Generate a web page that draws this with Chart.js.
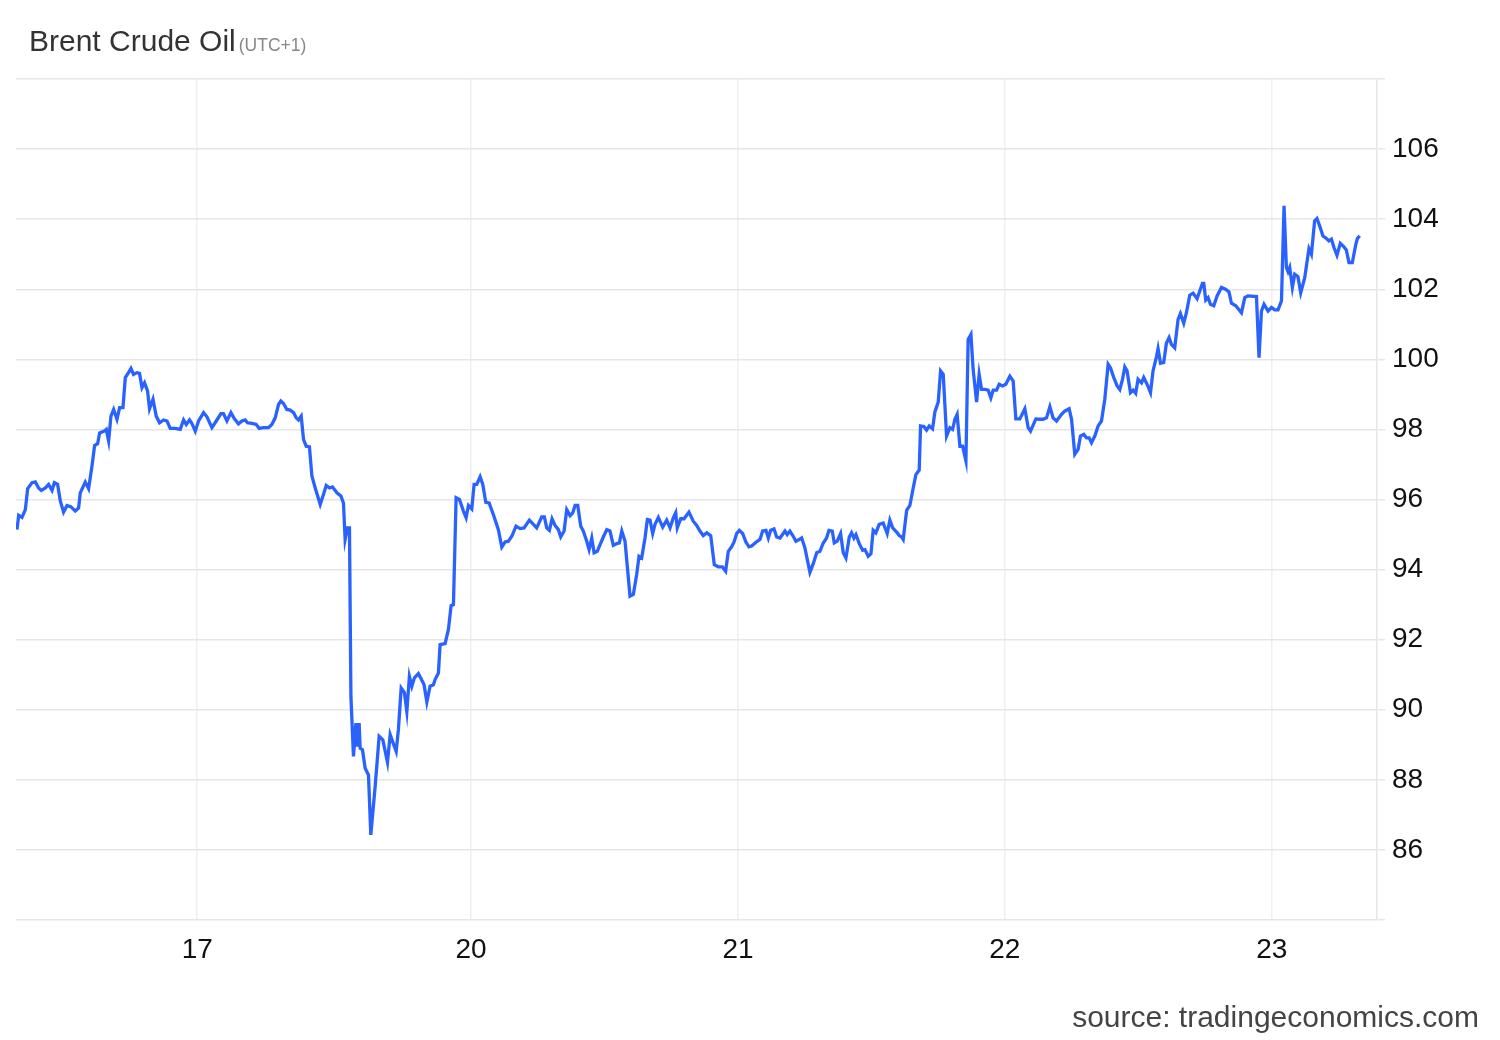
<!DOCTYPE html>
<html>
<head>
<meta charset="utf-8">
<title>Brent Crude Oil</title>
<script src="https://cdn.jsdelivr.net/npm/chart.js@4"></script>
<style>
    html, body { margin: 0; padding: 0; background: #fff; }
    #wrap { position: relative; width: 1500px; height: 1040px; font-family: Arial, "Liberation Sans", sans-serif; }
    #title { position: absolute; left: 29px; top: 26px; font-size: 30px; line-height: 30px; color: #333; white-space: nowrap; }
    #title span { font-size: 17.5px; color: #888; margin-left: 3px; }
    #source { position: absolute; right: 21px; top: 1002px; font-size: 30px; line-height: 30px; color: #444; white-space: nowrap; }
    canvas { position: absolute; left: 0; top: 0; }
</style>
</head>
<body>
<div id="wrap">
    <canvas id="oilChart" width="1500" height="1040"></canvas>
    <div id="title">Brent Crude Oil<span>(UTC+1)</span></div>
    <div id="source">source: tradingeconomics.com</div>
</div>
<script>
// hours of trading, measured from the start of the 17th
const times = [
    -16.21, -16.06, -15.76, -15.46, -15.25, -14.86, -14.56, -14.27, -14.02, -13.66,
    -13.37, -13.06, -12.85, -12.56, -12.31, -12.02, -11.71, -11.35, -10.97, -10.67,
    -10.52, -10.07, -9.77, -9.47, -9.23, -8.96, -8.78, -8.36, -8.18, -7.97,
    -7.76, -7.52, -7.22, -6.98, -6.68, -6.47, -6.18, -5.96, -5.73, -5.42,
    -5.19, -4.97, -4.74, -4.47, -4.29, -3.98, -3.69, -3.39, -3.03, -2.72,
    -2.43, -1.98, -1.53, -1.23, -0.99, -0.69, -0.48, -0.18, 0.12, 0.57,
    0.87, 1.32, 1.71, 2.13, 2.36, 2.67, 3.03, 3.33, 3.71, 4.02,
    4.31, 4.52, 4.92, 5.30, 5.57, 5.96, 6.41, 6.71, 7.01, 7.31,
    7.52, 7.76, 8.06, 8.36, 8.66, 8.90, 9.11, 9.35, 9.56, 9.80,
    10.09, 10.31, 10.61, 11.06, 11.35, 11.60, 11.89, 12.16, 12.56, 12.92,
    13.15, 13.30, 13.51, 13.69, 13.82, 14.05, 14.27, 14.41, 14.56, 14.65,
    14.86, 15.10, 15.40, 15.61, 16.00, 16.36, 16.69, 17.11, 17.35, 17.89,
    18.09, 18.34, 18.63, 18.85, 19.08, 19.30, 19.53, 19.89, 20.20, 20.40,
    20.65, 20.94, 21.24, 21.39, 21.69, 21.84, 22.29, 22.59, 22.83, 23.04,
    23.28, 23.58, 23.94, 24.18, 24.39, 24.69, 24.90, 25.14, 25.44, 25.68,
    25.95, 26.25, 26.63, 27.08, 27.39, 27.69, 27.98, 28.29, 28.67, 29.03,
    29.39, 29.87, 30.23, 30.53, 30.98, 31.22, 31.43, 31.67, 31.91, 32.18,
    32.48, 32.69, 32.99, 33.23, 33.53, 33.77, 33.98, 34.22, 34.49, 34.72,
    35.03, 35.24, 35.48, 35.69, 35.98, 36.23, 36.52, 36.83, 37.12, 37.42,
    37.73, 37.96, 38.18, 38.47, 38.92, 39.22, 39.52, 39.73, 39.97, 40.27,
    40.48, 40.72, 40.96, 41.17, 41.47, 41.86, 42.22, 42.52, 42.82, 43.03,
    43.17, 43.48, 43.78, 44.22, 44.61, 44.92, 45.21, 45.51, 45.82, 46.18,
    46.50, 46.86, 47.22, 47.52, 47.76, 48.06, 48.27, 48.51, 48.75, 49.05,
    49.35, 49.62, 49.86, 50.25, 50.61, 50.85, 51.15, 51.36, 51.57, 51.87,
    52.11, 52.41, 52.86, 53.06, 53.30, 53.60, 53.84, 54.14, 54.36, 54.65,
    55.10, 55.40, 55.71, 56.00, 56.30, 56.60, 56.81, 57.11, 57.29, 57.56,
    57.86, 58.10, 58.34, 58.64, 58.85, 59.06, 59.24, 59.54, 59.84, 60.05,
    60.34, 60.59, 60.79, 61.03, 61.33, 61.69, 62.05, 62.29, 62.54, 62.90,
    63.13, 63.35, 63.49, 63.80, 64.09, 64.39, 64.63, 64.93, 65.05, 65.35,
    65.59, 65.83, 66.13, 66.34, 66.64, 66.85, 67.09, 67.39, 67.69, 67.93,
    68.14, 68.34, 68.59, 68.83, 69.13, 69.33, 69.58, 69.78, 70.09, 70.32,
    70.54, 70.83, 71.13, 71.37, 71.58, 71.89, 72.12, 72.42, 72.72, 73.08,
    73.38, 73.62, 73.98, 74.43, 74.73, 74.94, 75.42, 75.72, 76.07, 76.38,
    76.68, 76.97, 77.28, 77.73, 78.02, 78.41, 78.63, 78.92, 79.22, 79.43,
    79.73, 79.97, 80.21, 80.42, 80.72, 81.02, 81.32, 81.62, 81.92, 82.13,
    82.43, 82.73, 82.97, 83.21, 83.42, 83.62, 83.93, 84.17, 84.40, 84.61,
    84.92, 85.12, 85.42, 85.73, 85.96, 86.27, 86.41, 86.63, 86.92, 87.16,
    87.40, 87.61, 87.91, 88.21, 88.42, 88.72, 88.96, 89.26, 89.56, 89.92,
    90.16, 90.40, 90.52, 90.70, 90.91, 91.12, 91.42, 91.72, 92.11, 92.47,
    92.79, 93.01, 93.40, 93.91, 94.21, 94.50, 95.26, 95.49, 95.71, 95.94,
    96.30, 96.61, 96.90, 97.20, 97.51, 97.74, 97.95, 98.10, 98.25, 98.49,
    98.70, 98.99, 99.24, 99.60, 99.98, 100.20, 100.49, 100.70, 100.94, 101.24,
    101.55, 101.78, 102.00, 102.23, 102.50, 102.80, 103.10, 103.34, 103.58, 103.88,
    104.20, 104.34, 104.55
];

const prices = [
    95.14, 95.55, 95.49, 95.71, 96.31, 96.48, 96.50, 96.33, 96.26, 96.33,
    96.43, 96.26, 96.48, 96.43, 95.95, 95.64, 95.83, 95.79, 95.67, 95.76,
    96.19, 96.50, 96.31, 96.95, 97.54, 97.59, 97.90, 97.95, 98.00, 97.67,
    98.38, 98.57, 98.29, 98.62, 98.62, 99.48, 99.62, 99.74, 99.57, 99.62,
    99.60, 99.19, 99.33, 99.10, 98.59, 98.86, 98.38, 98.19, 98.27, 98.24,
    98.03, 98.03, 98.00, 98.27, 98.14, 98.27, 98.17, 97.95, 98.24, 98.48,
    98.36, 98.05, 98.24, 98.45, 98.45, 98.24, 98.48, 98.31, 98.16, 98.24,
    98.27, 98.19, 98.17, 98.14, 98.03, 98.05, 98.05, 98.14, 98.33, 98.71,
    98.81, 98.74, 98.57, 98.55, 98.48, 98.33, 98.27, 98.38, 97.71, 97.52,
    97.50, 96.67, 96.33, 95.86, 96.14, 96.40, 96.33, 96.36, 96.19, 96.10,
    95.90, 94.86, 95.19, 95.19, 90.38, 88.67, 89.62, 88.95, 89.62, 88.90,
    88.86, 88.33, 88.14, 86.43, 87.81, 89.24, 89.14, 88.50, 89.29, 88.81,
    89.43, 90.62, 90.49, 89.95, 90.95, 90.67, 90.91, 91.03, 90.84, 90.71,
    90.22, 90.67, 90.71, 90.86, 91.05, 91.86, 91.89, 92.29, 92.97, 93.00,
    96.05, 96.00, 95.67, 95.48, 95.83, 95.73, 96.43, 96.43, 96.65, 96.43,
    95.92, 95.90, 95.57, 95.14, 94.64, 94.79, 94.81, 94.95, 95.24, 95.17,
    95.19, 95.41, 95.29, 95.19, 95.50, 95.50, 95.19, 95.12, 95.45, 95.26,
    95.14, 94.93, 95.10, 95.71, 95.54, 95.62, 95.83, 95.83, 95.24, 95.10,
    94.81, 94.57, 94.90, 94.48, 94.52, 94.71, 94.93, 95.14, 95.10, 94.69,
    94.74, 94.76, 95.10, 94.81, 93.24, 93.29, 93.86, 94.38, 94.33, 94.90,
    95.43, 95.41, 95.03, 95.29, 95.49, 95.21, 95.41, 95.19, 95.48, 95.62,
    95.19, 95.45, 95.45, 95.64, 95.38, 95.26, 95.10, 94.97, 95.05, 94.97,
    94.14, 94.08, 94.08, 93.95, 94.52, 94.65, 94.78, 95.03, 95.12, 95.03,
    94.78, 94.65, 94.67, 94.78, 94.86, 95.10, 95.12, 94.90, 95.12, 95.16,
    94.93, 94.90, 95.10, 95.00, 95.10, 94.95, 94.81, 94.86, 94.90, 94.62,
    93.92, 94.17, 94.48, 94.52, 94.76, 94.90, 95.12, 95.10, 94.76, 94.81,
    95.03, 94.48, 94.33, 94.93, 95.05, 94.90, 95.00, 94.74, 94.55, 94.57,
    94.38, 94.45, 95.12, 95.05, 95.29, 95.33, 95.03, 95.41, 95.19, 95.07,
    94.97, 94.93, 94.86, 95.69, 95.83, 96.33, 96.71, 96.84, 98.10, 98.08,
    97.98, 98.10, 98.02, 98.50, 98.78, 99.67, 99.57, 97.81, 98.05, 98.00,
    98.29, 98.43, 97.52, 97.52, 97.10, 100.57, 100.71, 99.71, 98.78, 99.57,
    99.14, 99.14, 99.12, 98.90, 99.12, 99.12, 99.29, 99.24, 99.29, 99.52,
    99.38, 98.30, 98.30, 98.59, 98.05, 97.95, 98.30, 98.29, 98.29, 98.33,
    98.65, 98.33, 98.24, 98.43, 98.52, 98.59, 98.29, 97.29, 97.43, 97.81,
    97.86, 97.76, 97.76, 97.62, 97.81, 98.10, 98.24, 98.86, 99.86, 99.76,
    99.48, 99.24, 99.14, 99.43, 99.78, 99.67, 99.05, 99.12, 99.03, 99.43,
    99.33, 99.48, 99.29, 99.05, 99.67, 100.08, 100.31, 99.89, 99.91, 100.46,
    100.62, 100.43, 100.33, 101.14, 101.31, 101.03, 101.33, 101.83, 101.89, 101.73,
    101.95, 102.17, 102.17, 101.69, 101.76, 101.57, 101.53, 101.81, 102.05, 102.00,
    101.92, 101.60, 101.53, 101.33, 101.76, 101.81, 101.79, 100.05, 101.38, 101.57,
    101.38, 101.48, 101.41, 101.41, 101.67, 104.38, 102.62, 102.50, 102.62, 102.05,
    102.43, 102.36, 101.90, 102.33, 103.16, 103.00, 103.95, 104.02, 103.81, 103.52,
    103.45, 103.38, 103.43, 103.19, 102.97, 103.31, 103.22, 103.12, 102.76, 102.76,
    103.29, 103.45, 103.52
];

// day ticks on the trading-hour axis (weekend removed)
const dayTicks = [0, 24.63, 48.63, 72.63, 96.63];
const dayLabels = ['17', '20', '21', '22', '23'];

const priceTicks = [84, 86, 88, 90, 92, 94, 96, 98, 100, 102, 104, 106, 108];

document.addEventListener('DOMContentLoaded', function() {
    const ctx = document.getElementById('oilChart').getContext('2d');
    const points = times.map((t, i) => ({ x: t, y: prices[i] }));

    new Chart(ctx, {
        type: 'line',
        data: {
            datasets: [{
                label: 'Brent Crude Oil',
                data: points,
                borderColor: '#2962ff',
                borderWidth: 3.3,
                pointRadius: 0,
                tension: 0,
                fill: false
            }]
        },
        options: {
            responsive: false,
            animation: false,
            devicePixelRatio: 1,
            layout: {
                padding: { left: 16, top: 79, right: 0, bottom: 0 }
            },
            plugins: {
                legend: { display: false },
                tooltip: { enabled: false }
            },
            scales: {
                x: {
                    type: 'linear',
                    min: -16.3,
                    max: 106.1,
                    afterBuildTicks: function(scale) {
                        scale.ticks = dayTicks.map(v => ({ value: v }));
                    },
                    afterFit: function(scale) {
                        scale.height = 120;
                    },
                    grid: {
                        color: '#edf0f5',
                        lineWidth: 1.5,
                        drawTicks: false
                    },
                    border: { display: false },
                    ticks: {
                        autoSkip: false,
                        maxRotation: 0,
                        padding: 13,
                        color: '#111',
                        font: { size: 28, family: 'Arial, "Liberation Sans", sans-serif' },
                        callback: function(value, index) {
                            return dayLabels[index];
                        }
                    }
                },
                y: {
                    position: 'right',
                    min: 84,
                    max: 108,
                    afterBuildTicks: function(scale) {
                        scale.ticks = priceTicks.map(v => ({ value: v }));
                    },
                    afterFit: function(scale) {
                        scale.width = 123;
                    },
                    grid: {
                        color: '#e6e6e6',
                        lineWidth: 1.5,
                        tickLength: 8
                    },
                    border: { display: true, color: '#e6e6e6', width: 1.5 },
                    ticks: {
                        padding: 7,
                        color: '#111',
                        font: { size: 28, family: 'Arial, "Liberation Sans", sans-serif' },
                        callback: function(value) {
                            if (value === 84 || value === 108) return '';
                            return value;
                        }
                    }
                }
            }
        }
    });
});
</script>
</body>
</html>
